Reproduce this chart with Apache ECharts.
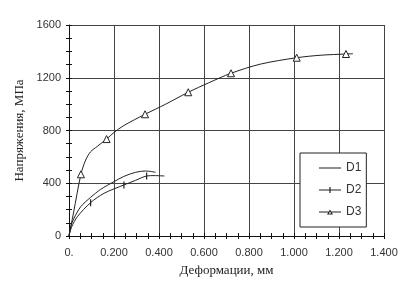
<!DOCTYPE html>
<html>
<head>
<meta charset="utf-8">
<script src="https://cdn.jsdelivr.net/npm/echarts@6/dist/echarts.min.js"></script>
<style>
  html, body { margin: 0; padding: 0; background: #fff; }
  #chart { width: 409px; height: 287px; }
</style>
</head>
<body>
<div id="chart"></div>
<script>
// 数据：横坐标为变形(мм)，纵坐标为应力(МПа)
var xTickLabels = ['0.', '0.200', '0.400', '0.600', '0.800', '1.000', '1.200', '1.400'];
var yTickLabels = ['0', '400', '800', '1200', '1600'];

var d1X = [0, 0.007, 0.022, 0.052, 0.096, 0.141, 0.2, 0.244, 0.296, 0.341, 0.385];
var d1Y = [0, 70, 134, 222, 293, 354, 412, 452, 483, 493, 483];

var d2X = [0, 0.012, 0.037, 0.096, 0.156, 0.244, 0.296, 0.345, 0.378, 0.424];
var d2Y = [0, 70, 146, 253, 324, 387, 422, 455, 458, 455];
var d2Marks = [0.096, 0.244, 0.345];

var d3X = [0, 0.02, 0.053, 0.074, 0.096, 0.126, 0.167, 0.2, 0.244, 0.338, 0.43, 0.53, 0.62, 0.72, 0.85, 1.012, 1.12, 1.231, 1.262];
var d3Y = [0, 175, 468, 576, 639, 680, 735, 785, 838, 923, 1000, 1090, 1161, 1234, 1303, 1352, 1371, 1380, 1382];
var d3Marks = [0.053, 0.167, 0.338, 0.53, 0.72, 1.012, 1.231];

function buildData(xs, ys, marks) {
	var arr = [];
	for (var i = 0; i < xs.length; i++) {
		var item = { value: [xs[i], ys[i]] };
		if (!marks || marks.indexOf(xs[i]) < 0) item.symbol = 'none';
		arr.push(item);
	}
	return arr;
}

// 图例图标（22x14 的框内）
var corners = 'M0,0 L0.01,0 L0,0.01 Z M22,14 L21.99,14 L22,13.99 Z ';
var iconD1 = 'path://' + corners + 'M0,6.5 L22,6.5 L22,7.5 L0,7.5 Z';
var iconD2 = 'path://' + corners + 'M0,6.5 L22,6.5 L22,7.5 L0,7.5 Z M10.4,4 L11.6,4 L11.6,10 L10.4,10 Z';
var iconD3 = 'path://' + corners + 'M0,6.5 L9.6,6.5 L9.6,7.5 L0,7.5 Z M12.4,6.5 L22,6.5 L22,7.5 L12.4,7.5 Z ' +
	'M11,4.6 L14,9.4 L8,9.4 Z M11,6.5 L9.7,8.6 L12.3,8.6 Z';

var chart = echarts.init(document.getElementById('chart'), null, { renderer: 'canvas' });

var labelFont = { fontFamily: 'Liberation Sans', fontSize: 11, color: '#333' };
var nameFont = { fontFamily: 'Liberation Serif', fontSize: 13, color: '#222' };
var legendItemStyle = { color: '#222', borderWidth: 0 };

var option = {
	animation: false,
	backgroundColor: '#fff',
	grid: { left: 69, top: 25, right: 25, bottom: 51, containLabel: false },
	legend: {
		orient: 'vertical',
		left: 300,
		top: 153,
		padding: [8, 5, 8, 19],
		itemGap: 8,
		itemWidth: 22,
		itemHeight: 14,
		symbolKeepAspect: false,
		backgroundColor: '#fff',
		borderColor: '#222',
		borderWidth: 1,
		textStyle: { fontFamily: 'Liberation Sans', fontSize: 12, color: '#333' },
		data: [
			{ name: 'D1', icon: iconD1, itemStyle: legendItemStyle },
			{ name: 'D2', icon: iconD2, itemStyle: legendItemStyle },
			{ name: 'D3', icon: iconD3, itemStyle: legendItemStyle }
		]
	},
	xAxis: [
		{
			type: 'value', min: 0, max: 1.4, interval: 0.2,
			name: 'Деформации, мм', nameLocation: 'middle', nameGap: 28,
			nameTextStyle: nameFont,
			axisLine: { lineStyle: { color: '#111', width: 1 } },
			axisTick: { show: true, length: 3, lineStyle: { color: '#111' } },
			minorTick: { show: true, splitNumber: 4, length: 3, lineStyle: { color: '#111' } },
			axisLabel: Object.assign({ margin: 11, formatter: function (v) {
				return xTickLabels[Math.round(v / 0.2)];
			} }, labelFont),
			splitLine: { show: true, lineStyle: { color: '#444', width: 1 } }
		},
		{
			type: 'value', min: 0, max: 1.4, interval: 0.05, position: 'bottom', offset: 0,
			axisLine: { show: false },
			axisTick: { show: true, inside: true, length: 3, lineStyle: { color: '#111' } },
			axisLabel: { show: false },
			splitLine: { show: false }
		}
	],
	yAxis: [
		{
			type: 'value', min: 0, max: 1600, interval: 400,
			name: 'Напряжения, МПа', nameLocation: 'middle', nameGap: 38,
			nameTextStyle: nameFont,
			axisLine: { show: true, lineStyle: { color: '#111', width: 1 } },
			axisTick: { show: true, length: 3, lineStyle: { color: '#111' } },
			minorTick: { show: true, splitNumber: 4, length: 3, lineStyle: { color: '#111' } },
			axisLabel: Object.assign({ margin: 8, formatter: function (v) {
				return yTickLabels[Math.round(v / 400)];
			} }, labelFont),
			splitLine: { show: true, lineStyle: { color: '#444', width: 1 } }
		},
		{
			type: 'value', min: 0, max: 1600, interval: 100, position: 'left', offset: 0,
			axisLine: { show: false },
			axisTick: { show: true, inside: true, length: 3, lineStyle: { color: '#111' } },
			axisLabel: { show: false },
			splitLine: { show: false }
		}
	],
	series: [
		{
			name: 'D1', type: 'line', xAxisIndex: 0, yAxisIndex: 0,
			symbol: 'none', smooth: 0.3,
			lineStyle: { color: '#222', width: 1 },
			itemStyle: { color: '#222' },
			data: buildData(d1X, d1Y, null)
		},
		{
			name: 'D2', type: 'line', xAxisIndex: 0, yAxisIndex: 0,
			symbol: 'rect', symbolSize: [1.2, 7], showAllSymbol: true,
			smooth: 0.3,
			lineStyle: { color: '#222', width: 1 },
			itemStyle: { color: '#222' },
			data: buildData(d2X, d2Y, d2Marks)
		},
		{
			name: 'D3', type: 'line', xAxisIndex: 0, yAxisIndex: 0,
			symbol: 'triangle', symbolSize: 7, showAllSymbol: true,
			smooth: 0.3,
			lineStyle: { color: '#222', width: 1 },
			itemStyle: { color: '#fff', borderColor: '#222', borderWidth: 1 },
			data: buildData(d3X, d3Y, d3Marks)
		}
	]
};

chart.setOption(option);
</script>
</body>
</html>
